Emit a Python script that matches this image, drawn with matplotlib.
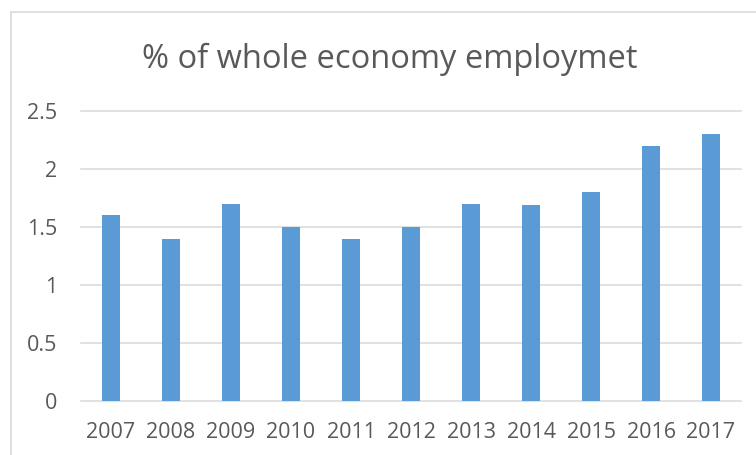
import matplotlib
matplotlib.use("Agg")
import matplotlib.pyplot as plt
from matplotlib.patches import Rectangle

years = ["2007", "2008", "2009", "2010", "2011", "2012",
         "2013", "2014", "2015", "2016", "2017"]
share = [1.6, 1.4, 1.7, 1.5, 1.4, 1.5, 1.7, 1.69, 1.8, 2.2, 2.3]
yticks = [0, 0.5, 1, 1.5, 2, 2.5]
ytick_labels = ["0", "0.5", "1", "1.5", "2", "2.5"]
title = "% of whole economy employmet"

BAR = "#5B9BD5"
TEXT = "#595959"
GRID = "#D9D9D9"

plt.rcParams["font.family"] = ["Open Sans", "DejaVu Sans"]

W, H = 756, 455
fig = plt.figure(figsize=(W / 100, H / 100), dpi=100)

# chart frame (runs past the right and bottom edges)
fig.patches.append(Rectangle((11 / W, -0.1), 1.2, 1 - 12 / H + 0.1,
                             transform=fig.transFigure, fill=False,
                             edgecolor=GRID, linewidth=1.2))

ax = fig.add_axes([81 / W, 1 - 401 / H, 660 / W, 290 / H])
x = range(len(years))
ax.bar(x, share, width=0.31, color=BAR, zorder=3)

ax.set_xlim(-0.5, len(years) - 0.5)
ax.set_ylim(0, 2.5)
ax.set_yticks(yticks)
ax.set_yticklabels(ytick_labels)
ax.set_xticks(list(x))
ax.set_xticklabels(years)
ax.tick_params(axis="both", length=0, labelsize=15.5, labelcolor=TEXT)
ax.tick_params(axis="y", pad=17)
ax.tick_params(axis="x", pad=15)

for s in ax.spines.values():
    s.set_visible(False)
for v in yticks:
    ax.axhline(v, color=GRID, linewidth=1.1, zorder=1, clip_on=False)

fig.text(390 / W, 1 - 68 / H, title, ha="center", va="baseline",
         fontsize=23.5, color=TEXT)

fig.savefig("out.png", dpi=100)
